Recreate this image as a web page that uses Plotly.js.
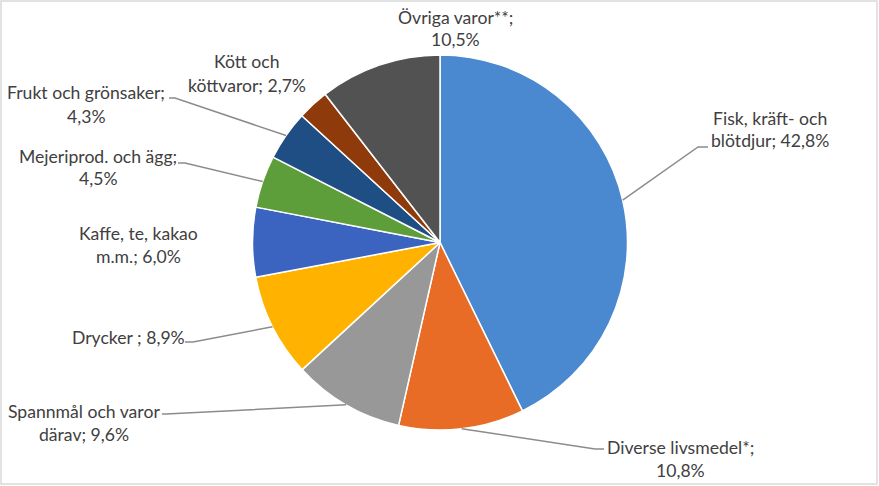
<!DOCTYPE html>
<html><head><meta charset="utf-8">
<script src="https://cdn.plot.ly/plotly-3.0.1.min.js"></script>
<style>body{margin:0;background:#fff}</style>
</head><body><div id="chart" style="width:879px;height:486px"></div>
<script>
const categories = ["Fisk, kräft- och blötdjur","Diverse livsmedel*","Spannmål och varor därav","Drycker ","Kaffe, te, kakao m.m.","Mejeriprod. och ägg","Frukt och grönsaker","Kött och köttvaror","Övriga varor**"];
const shares = [42.8,10.8,9.6,8.9,6.0,4.5,4.3,2.7,10.5];
const colors = ["#4a89cf","#e86c25","#989898","#ffb300","#3a64c0","#5e9e3a","#1f4e84","#8f3a0b","#525252"];
const firstLineWords = [3,2,3,3,3,3,3,2,2];

// layout (pixels)
const W = 879, H = 486;
const CX = 440, CY = 242.5, R = 187.5;
const labelPos = [[770,118],[680,447],[84,411],[128,337],[138,233],[98,156],[86,93],[247,62],[456,17]];
const leaderKnee = [[698,147,708],[595,449,604],[166,414,162],[193,342,185],null,[185,163,178],[175,98,169],null,null];
const LINE_GAP = 23;
const FONT = {family:"Lato, 'Liberation Sans', sans-serif", size:17.6, color:"#404040"};

const px = x => x / W, py = y => 1 - y / H;
const fmt = v => v.toFixed(1).replace('.', ',') + '%';

const annotations = [];
const shapes = [];
const total = shares.reduce((a,b)=>a+b,0);
let cum = 0;
categories.forEach((c,i) => {
  const mid = (cum + shares[i]/2) / total * 2 * Math.PI;
  cum += shares[i];
  const words = (c + "; " + fmt(shares[i])).split(" ");
  const lines = [words.slice(0, firstLineWords[i]).join(" "), words.slice(firstLineWords[i]).join(" ")].filter(s => s.length);
  lines.forEach((t, k) => {
    annotations.push({xref:'paper', yref:'paper', x:px(labelPos[i][0]), y:py(labelPos[i][1] + k*LINE_GAP),
      xanchor:'center', yanchor:'middle', text:t, showarrow:false, font:FONT});
  });
  const kn = leaderKnee[i];
  if (kn) {
    const ex = CX + R*Math.sin(mid), ey = CY - R*Math.cos(mid);
    shapes.push({type:'path', xref:'paper', yref:'paper',
      path:`M ${px(ex)} ${py(ey)} L ${px(kn[0])} ${py(kn[1])} L ${px(kn[2])} ${py(kn[1])}`,
      line:{color:'#8c8c8c', width:1.5}});
  }
});
shapes.push({type:'rect', xref:'paper', yref:'paper', x0:px(1), x1:px(877), y0:py(484), y1:py(1),
  line:{color:'#d9d9d9', width:1.5}});

const trace = {type:'pie', labels:categories, values:shares, sort:false, direction:'clockwise', rotation:0,
  marker:{colors:colors, line:{color:'#ffffff', width:1.5}}, textinfo:'none', hoverinfo:'skip', showlegend:false,
  domain:{x:[px(CX-R), px(CX+R)], y:[py(CY+R), py(CY-R)]}};

Plotly.newPlot('chart', [trace], {width:W, height:H, margin:{l:0,r:0,t:0,b:0},
  paper_bgcolor:'#ffffff', annotations:annotations, shapes:shapes, showlegend:false}, {displayModeBar:false, staticPlot:true});
</script></body></html>
